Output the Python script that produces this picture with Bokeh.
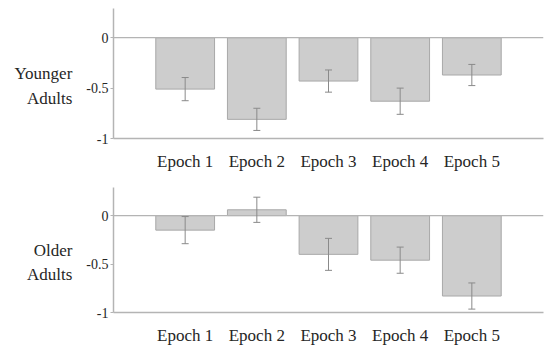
from bokeh.plotting import figure
from bokeh.models import ColumnDataSource, FactorRange, Range1d, FixedTicker, Span, Whisker, TeeHead, PrintfTickFormatter
from bokeh.layouts import column
from bokeh.embed import file_html
from bokeh.resources import INLINE

epochs = ["Epoch 1", "Epoch 2", "Epoch 3", "Epoch 4", "Epoch 5"]
younger_mean = [-0.51, -0.81, -0.43, -0.63, -0.37]
younger_err = [0.115, 0.11, 0.11, 0.13, 0.105]
older_mean = [-0.15, 0.06, -0.40, -0.46, -0.83]
older_err = [0.14, 0.13, 0.165, 0.135, 0.135]
y_ticks = [-1, -0.5, 0]
group_labels = ["Younger\nAdults", "Older\nAdults"]

FONT = "Liberation Serif"
TXT = "#262626"
AX = "#b4b4b4"


def panel(label, means, errs, height, top, bottom):
    src = ColumnDataSource(dict(
        x=epochs, top=means,
        upper=[m + e for m, e in zip(means, errs)],
        lower=[m - e for m, e in zip(means, errs)],
    ))
    p = figure(x_range=FactorRange(*epochs, range_padding=0.2),
               y_range=Range1d(-1, 0.29),
               width=544, height=height, output_backend="svg",
               toolbar_location=None, min_border_left=113,
               min_border_right=1, min_border_top=top,
               min_border_bottom=bottom)
    p.outline_line_color = None
    p.xgrid.visible = False
    p.ygrid.visible = False
    p.background_fill_color = "white"
    p.border_fill_color = "white"

    p.vbar(x="x", top="top", bottom=0, width=0.82, source=src,
           fill_color="#cdcdcd", line_color="#a8a8a8", line_width=1)
    p.add_layout(Span(location=0, dimension="width", line_color=AX, line_width=1.2))
    w = Whisker(base="x", upper="upper", lower="lower", source=src,
                line_color="#8a8a8a", line_width=1, level="overlay")
    w.upper_head = TeeHead(size=7, line_color="#8a8a8a", line_width=1)
    w.lower_head = TeeHead(size=7, line_color="#8a8a8a", line_width=1)
    p.add_layout(w)

    for ya in p.yaxis:
        ya.ticker = FixedTicker(ticks=y_ticks)
        ya.formatter = PrintfTickFormatter(format="%g")
        ya.minor_tick_line_color = None
        ya.major_tick_in = 0
        ya.major_tick_out = 3
        ya.major_tick_line_color = AX
        ya.axis_line_color = AX
        ya.axis_line_width = 1.5
        ya.major_label_text_font = FONT
        ya.major_label_text_font_size = "14px"
        ya.major_label_text_color = TXT
        ya.major_label_standoff = 2
        ya.axis_label = " \n" + label
        ya.axis_label_orientation = "horizontal"
        ya.axis_label_text_font = FONT
        ya.axis_label_text_font_size = "17px"
        ya.axis_label_text_font_style = "normal"
        ya.axis_label_text_color = TXT
        ya.axis_label_text_align = "center"
        ya.axis_label_text_line_height = 1.3
        ya.axis_label_standoff = 11

    for xa in p.xaxis:
        xa.major_tick_line_color = None
        xa.minor_tick_line_color = None
        xa.axis_line_color = AX
        xa.axis_line_width = 1.5
        xa.major_label_text_font = FONT
        xa.major_label_text_font_size = "17px"
        xa.major_label_text_color = TXT
        xa.major_label_standoff = 7
    return p


p1 = panel(group_labels[0], younger_mean, younger_err, 173, 8, 32)
p2 = panel(group_labels[1], older_mean, older_err, 174, 14, 27)
layout = column(p1, p2, spacing=0)
open("out.html", "w").write(file_html(layout, INLINE))
